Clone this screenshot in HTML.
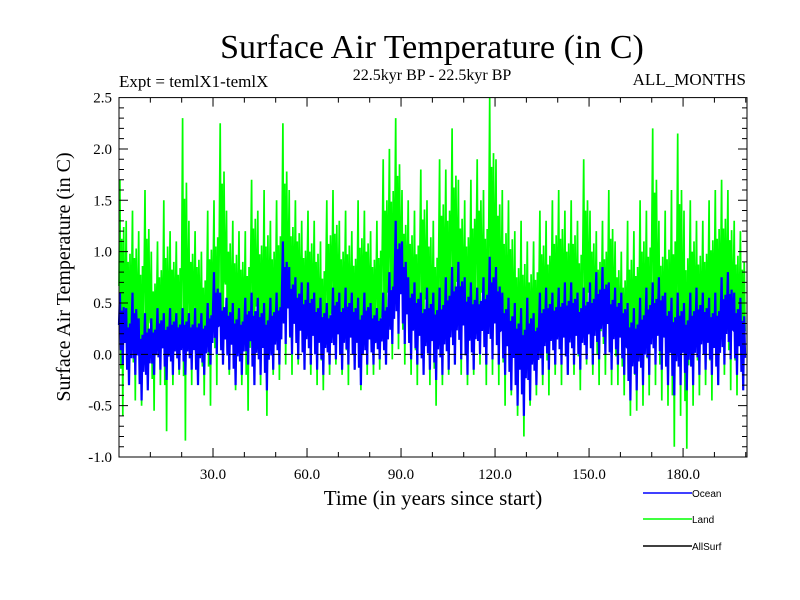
<!DOCTYPE html>
<html><head><meta charset="utf-8"><style>
body{margin:0;background:#fff;}
svg{display:block;font-family:"Liberation Serif",serif;}
</style></head><body>
<svg id="c" width="800" height="600" viewBox="0 0 800 600">
<text x="432" y="58" text-anchor="middle" font-size="34">Surface Air Temperature (in C)</text>
<text x="119" y="87" font-size="17">Expt = temlX1-temlX</text>
<text x="432" y="80" text-anchor="middle" font-size="16">22.5kyr BP - 22.5kyr BP</text>
<text x="746" y="85" text-anchor="end" font-size="17">ALL_MONTHS</text>
<text transform="translate(70,277) rotate(-90)" text-anchor="middle" font-size="20">Surface Air Temperature (in C)</text>
<text x="433" y="505" text-anchor="middle" font-size="21">Time (in years since start)</text>
<g id="plot"></g>
<g id="axes"></g>
<g font-family="Liberation Sans, sans-serif" font-size="10">
<line x1="643" y1="493" x2="692" y2="493" stroke="#0000ff" stroke-width="1.5"/>
<text x="692" y="497">Ocean</text>
<line x1="643" y1="519" x2="692" y2="519" stroke="#00ff00" stroke-width="1.5"/>
<text x="692" y="523">Land</text>
<line x1="643" y1="546" x2="692" y2="546" stroke="#000" stroke-width="1.5"/>
<text x="692" y="550">AllSurf</text>
</g>
</svg>
<script>
const binYears = 2;
const landHi = [1.7,1.3,1.4,1.2,1.6,1.0,1.1,1.5,1.2,1.1,
2.3,1.3,1.2,1.0,1.4,1.5,2.25,1.4,1.3,1.2,
1.2,1.7,1.4,1.6,1.3,1.5,2.25,1.6,1.5,1.3,
1.4,1.3,1.1,1.5,1.6,1.3,1.4,1.2,1.5,1.4,
1.2,1.3,1.9,2.0,2.3,1.6,1.5,1.4,1.8,1.5,
1.3,1.9,1.8,2.2,1.7,1.5,1.7,1.9,1.6,2.5,
1.9,1.6,1.5,1.2,1.3,1.1,1.1,1.4,1.3,1.5,
1.6,1.4,1.5,1.3,1.9,1.4,1.2,1.3,1.6,1.1,
1.0,1.3,1.2,1.5,1.4,2.2,1.3,1.4,1.6,2.15,
1.4,1.5,1.3,1.3,1.5,1.6,1.7,1.6,1.3,1.2];
const landLo = [-0.6,-0.3,-0.45,-0.5,-0.3,-0.55,-0.3,-0.75,-0.3,-0.2,
-0.84,-0.3,-0.2,-0.4,-0.5,-0.3,-0.1,-0.2,-0.35,-0.3,
-0.55,-0.2,-0.3,-0.6,-0.2,-0.25,-0.1,-0.2,-0.1,-0.15,
-0.2,-0.3,-0.35,-0.2,-0.1,-0.2,-0.3,-0.15,-0.35,-0.2,
-0.2,-0.15,-0.1,-0.05,0.05,-0.1,-0.2,-0.3,-0.15,-0.3,
-0.5,-0.3,-0.2,-0.1,-0.2,-0.3,-0.2,-0.1,-0.3,-0.2,
-0.3,-0.5,-0.4,-0.6,-0.8,-0.5,-0.4,-0.3,-0.4,-0.2,
-0.3,-0.2,-0.2,-0.35,-0.1,-0.2,-0.3,-0.2,-0.3,-0.3,
-0.4,-0.6,-0.55,-0.5,-0.4,-0.3,-0.45,-0.5,-0.9,-0.6,
-0.92,-0.5,-0.4,-0.3,-0.45,-0.3,-0.2,-0.35,-0.4,-0.3];
const oceanHi = [0.6,0.45,0.6,0.35,0.4,0.35,0.45,0.4,0.45,0.4,
0.45,0.4,0.45,0.4,0.5,0.8,0.6,0.55,0.5,0.45,
0.55,0.6,0.55,0.5,0.55,0.6,1.1,0.85,0.75,0.7,
0.7,0.6,0.55,0.5,0.65,0.6,0.65,0.6,0.55,0.6,
0.5,0.45,0.6,0.8,1.3,1.1,0.75,0.7,0.6,0.65,
0.6,0.65,0.75,0.85,0.9,0.75,0.7,0.65,0.75,0.95,
0.85,0.6,0.55,0.5,0.45,0.55,0.4,0.6,0.65,0.6,
0.65,0.7,0.7,0.6,0.65,0.7,0.8,0.85,0.7,0.65,
0.6,0.5,0.45,0.55,0.65,0.7,0.75,0.6,0.55,0.6,
0.5,0.6,0.65,0.6,0.55,0.6,0.75,0.8,0.6,0.55];
const oceanLo = [-0.1,-0.3,-0.2,-0.45,-0.35,-0.2,-0.15,-0.25,-0.2,-0.15,
-0.2,-0.15,-0.3,-0.2,-0.1,0.0,-0.1,-0.15,-0.3,-0.2,
-0.1,-0.3,-0.2,-0.35,-0.15,-0.1,0.1,0.0,-0.05,-0.15,
-0.1,-0.15,-0.2,-0.1,-0.05,-0.15,-0.1,-0.15,-0.3,-0.1,
-0.1,-0.05,-0.1,0.1,0.2,0.1,-0.05,-0.1,-0.2,-0.15,
-0.25,-0.2,-0.15,-0.1,-0.05,-0.2,-0.15,0.0,-0.1,-0.05,
-0.1,-0.2,-0.35,-0.5,-0.6,-0.45,-0.3,-0.2,-0.15,-0.1,
-0.1,-0.2,-0.1,-0.15,-0.05,-0.1,-0.05,0.0,-0.15,-0.1,
-0.2,-0.45,-0.35,-0.3,-0.2,-0.1,-0.15,-0.3,-0.4,-0.3,
-0.35,-0.3,-0.2,-0.15,-0.2,-0.3,-0.1,-0.05,-0.2,-0.35];
const xTickLabels = ["30.0","60.0","90.0","120.0","150.0","180.0"];
const yTickLabels = ["-1.0","-0.5","0.0","0.5","1.0","1.5","2.0","2.5"];

const L=119,R=747,T=97.6,B=457, X0=0,X1=200.4, Y0=-1,Y1=2.5;
const xs=v=>L+(v-X0)/(X1-X0)*(R-L);
const ys=v=>B-(v-Y0)/(Y1-Y0)*(B-T);
const NS='http://www.w3.org/2000/svg';
function mk(tag,attrs,parent){const e=document.createElementNS(NS,tag);for(const k in attrs)e.setAttribute(k,attrs[k]);parent.appendChild(e);return e;}
const plot=document.getElementById('plot'), axes=document.getElementById('axes');

function series(hi,lo){
  const pts=[];
  for(let i=0;i<hi.length;i++){
    const t=i*binYears, h=hi[i], l=lo[i], d=h-l;
    pts.push([t,l+0.55*d],[t+0.3,h],[t+0.6,l+0.2*d],[t+0.9,l+0.75*d],[t+1.2,l],[t+1.5,l+0.8*d],[t+1.8,l+0.35*d]);
  }
  return pts.map(p=>xs(p[0]).toFixed(1)+','+ys(p[1]).toFixed(1)).join(' ');
}
const land=mk('polyline',{points:series(landHi,landLo),fill:'none',stroke:'#00ff00','stroke-width':1.7},plot);


const ocean=mk('polyline',{points:series(oceanHi,oceanLo),fill:'none',stroke:'#0000ff','stroke-width':2.2},plot);


const zero=mk('line',{x1:L,x2:R,y1:ys(0),y2:ys(0),stroke:'#000','stroke-dasharray':'7,4','stroke-width':1},plot);



const frame=mk('rect',{x:L,y:T,width:R-L,height:B-T,fill:'none',stroke:'#000','stroke-width':1},axes);


let d='';
for(let t=10;t<X1;t+=10){const x=xs(t),len=(t%30===0)?9:5;d+=`M${x},${B}v${-len}M${x},${T}v${len}`;}
for(let k=-9;k<25;k++){const v=k/10,y=ys(v),len=(k%5===0)?9:5;d+=`M${L},${y}h${len}M${R},${y}h${-len}`;}
const ticks=mk('path',{d:d,stroke:'#000','stroke-width':1,fill:'none'},axes);


xTickLabels.forEach(s=>{
  const tx=mk('text',{x:xs(parseFloat(s)),y:479,'text-anchor':'middle','font-size':15},axes);
  tx.textContent=s;
  
  
});
yTickLabels.forEach(s=>{
  const tx=mk('text',{x:112,y:ys(parseFloat(s))+5,'text-anchor':'end','font-size':15},axes);
  tx.textContent=s;
  
  
});
</script>
</body></html>
